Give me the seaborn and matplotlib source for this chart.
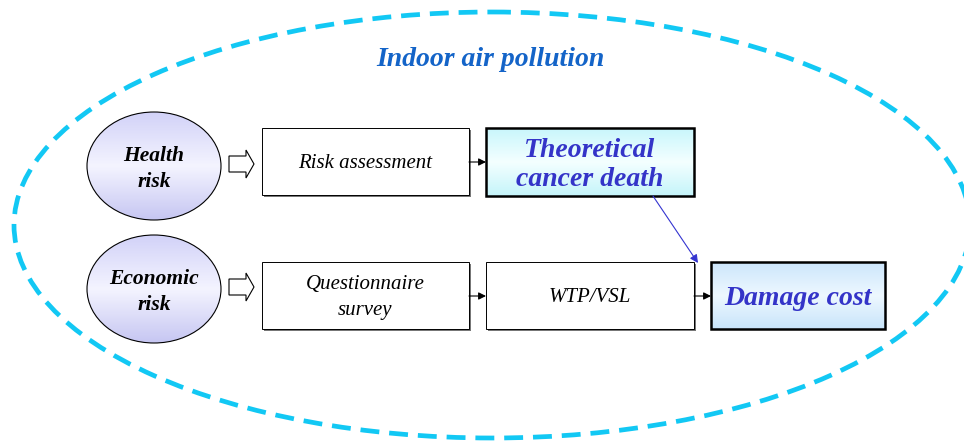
"""
Indoor air pollution - risk / damage cost framework
"""

import numpy as np
import matplotlib
matplotlib.use("Agg")
import matplotlib.pyplot as plt
import seaborn as sns
from matplotlib.patches import Ellipse, Rectangle, Polygon
from matplotlib.colors import LinearSegmentedColormap

sns.set_theme(style="white")
plt.rcParams["font.family"] = ["Liberation Serif", "DejaVu Serif"]

# DIAGRAM CONTENT

title = "Indoor air pollution"
risk_labels = ["Health\nrisk", "Economic\nrisk"]
step_labels = ["Risk assessment", "Questionnaire\nsurvey", "WTP/VSL"]
result_labels = ["Theoretical\ncancer death", "Damage cost"]

# LAYOUT (pixel coordinates, y downwards)

W, H = 964, 443
risk_centers = [(154, 166), (154, 289)]
step_boxes = [(262, 128, 207, 67), (262, 262, 207, 67), (486, 262, 208, 67)]
result_boxes = [(486, 128, 208, 68), (711, 262, 174, 67)]

fig = plt.figure(figsize=(W / 100, H / 100), dpi=100)
ax = fig.add_axes([0, 0, 1, 1])
ax.set_xlim(0, W)
ax.set_ylim(H, 0)
ax.axis("off")


def gradient_fill(patch, x0, y0, w, h, colors):
    cmap = LinearSegmentedColormap.from_list("g", colors)
    grad = np.linspace(0, 1, 256).reshape(-1, 1)
    im = ax.imshow(grad, cmap=cmap, aspect="auto", origin="upper",
                   extent=(x0, x0 + w, y0 + h, y0), zorder=2)
    im.set_clip_path(patch)


# big dashed ellipse
ax.add_patch(Ellipse((492, 225), 956, 426, fill=False, edgecolor="#12C8F4",
                     lw=3.4, linestyle=(0, (4.0, 2.1)), zorder=1))
ax.text(490, 59, title, ha="center", va="center", fontsize=20,
        fontweight="bold", style="italic", color="#1464C8")

# risk ellipses
for (cx, cy), label in zip(risk_centers, risk_labels):
    e = Ellipse((cx, cy), 134, 108, facecolor="none", edgecolor="black", lw=0.8, zorder=3)
    ax.add_patch(e)
    gradient_fill(e, cx - 67, cy - 54, 134, 108, ["#D2D2F8", "#F4F4FF", "#C6C6F2"])
    ax.text(cx, cy + 3, label, ha="center", va="center", fontsize=15.5,
            fontweight="bold", style="italic", color="black", linespacing=1.45, zorder=4)

    # hollow block arrow
    ay = cy - 2
    pts = [(229, ay - 8), (246, ay - 8), (246, ay - 14), (254, ay),
           (246, ay + 14), (246, ay + 8), (229, ay + 8)]
    ax.add_patch(Polygon(pts, closed=True, facecolor="white", edgecolor="black", lw=0.8, zorder=3))

# plain step boxes
for (x, y, w, h), label in zip(step_boxes, step_labels):
    ax.add_patch(Rectangle((x + 1.5, y + 1.5), w, h, facecolor="#777777", edgecolor="none", zorder=2))
    ax.add_patch(Rectangle((x, y), w, h, facecolor="white", edgecolor="black", lw=0.7, zorder=3))
    ax.text(x + w / 2, y + h / 2 + 2, label, ha="center", va="center", fontsize=15,
            style="italic", color="black", linespacing=1.5, zorder=4)

# highlighted result boxes
for (x, y, w, h), label in zip(result_boxes, result_labels):
    r = Rectangle((x, y), w, h, facecolor="none", edgecolor="black", lw=1.8, zorder=4)
    ax.add_patch(r)
    if "cancer" in label:
        cols = ["#C8F6FC", "#F4FFFF", "#C4F4FA"]
    else:
        cols = ["#CCE6FC", "#EEF8FF", "#C8E4FA"]
    gradient_fill(r, x, y, w, h, cols)
    ax.text(x + w / 2, y + h / 2 + 3, label, ha="center", va="center", fontsize=20,
            fontweight="bold", style="italic", color="#3434C8", linespacing=1.2, zorder=5)

# connector arrows
links = [((469, 162), (486, 162)), ((469, 296), (486, 296)), ((694, 296), (711, 296))]
for (x0, y0), (x1, y1) in links:
    ax.annotate("", xy=(x1, y1), xytext=(x0, y0),
                arrowprops=dict(arrowstyle="-|>", color="black", lw=0.8,
                                mutation_scale=11, shrinkA=0, shrinkB=0), zorder=6)

ax.annotate("", xy=(698, 263), xytext=(653, 196),
            arrowprops=dict(arrowstyle="-|>", color="#3434D0", lw=0.8,
                            mutation_scale=12, shrinkA=0, shrinkB=0), zorder=6)

plt.savefig("out.png", dpi=100)
